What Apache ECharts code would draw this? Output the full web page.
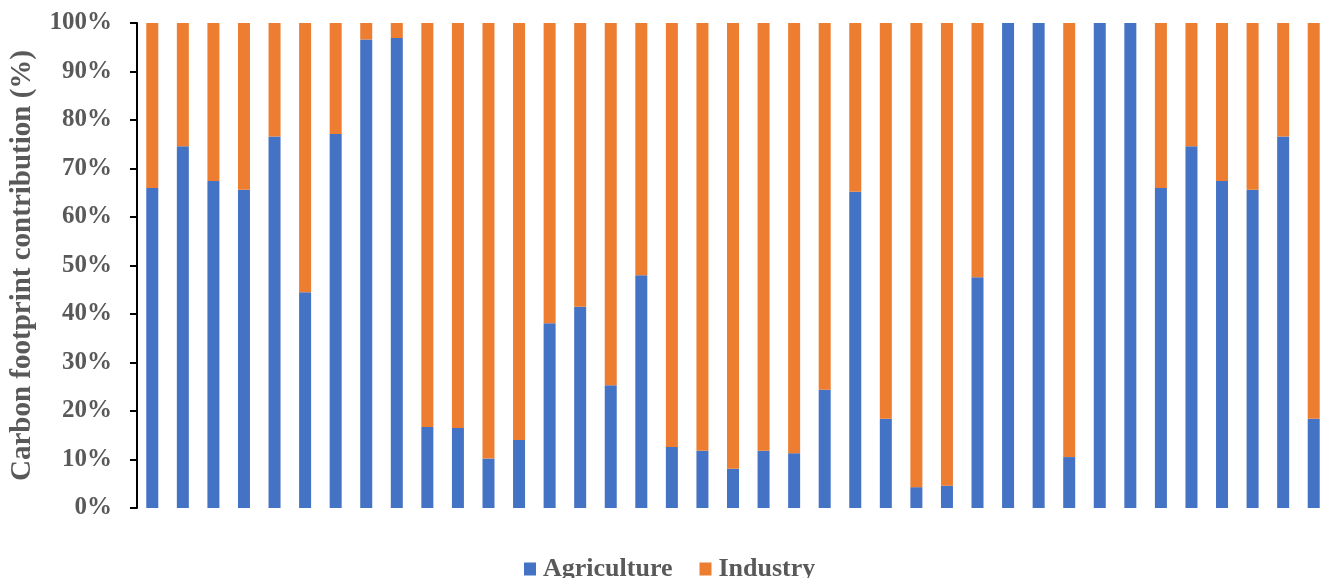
<!DOCTYPE html>
<html>
<head>
<meta charset="utf-8">
<script src="https://cdn.jsdelivr.net/npm/echarts@6/dist/echarts.min.js"></script>
<style>
html,body{margin:0;padding:0;background:#fff;overflow:hidden;width:1322px;height:578px;}
#chart{width:1330px;height:578px;}
</style>
</head>
<body>
<div id="chart"></div>
<script>
var categories = ['1','2','3','4','5','6','7','8','9','10','11','12','13','14','15','16','17','18','19','20',
  '21','22','23','24','25','26','27','28','29','30','31','32','33','34','35','36','37','38','39'];
var agriculture = [66.0, 74.6, 67.4, 65.6, 76.6, 44.5, 77.1, 96.6, 96.9, 16.7,
  16.5, 10.2, 14.0, 38.1, 41.5, 25.3, 48.0, 12.6, 11.8, 8.1,
  11.8, 11.3, 24.4, 65.2, 18.4, 4.3, 4.6, 47.6, 100, 100,
  10.5, 100, 100, 66.0, 74.6, 67.4, 65.6, 76.6, 18.4];
var industry = [34.0, 25.4, 32.6, 34.4, 23.4, 55.5, 22.9, 3.4, 3.1, 83.3,
  83.5, 89.8, 86.0, 61.9, 58.5, 74.7, 52.0, 87.4, 88.2, 91.9,
  88.2, 88.7, 75.6, 34.8, 81.6, 95.7, 95.4, 52.4, 0, 0,
  89.5, 0, 0, 34.0, 25.4, 32.6, 34.4, 23.4, 81.6];
var yTicks = [0, 10, 20, 30, 40, 50, 60, 70, 80, 90, 100];

var serif = '"Liberation Serif", "DejaVu Serif", serif';
var chart = echarts.init(document.getElementById('chart'), null, {renderer: 'canvas'});
chart.setOption({
  animation: false,
  grid: {left: 135, right: 1, top: 23, bottom: 70, containLabel: false},
  legend: {
    data: ['Agriculture', 'Industry'],
    left: 519, top: 551,
    itemWidth: 12, itemHeight: 13, itemGap: 27,
    icon: 'rect',
    textStyle: {fontFamily: serif, fontWeight: 'bold', fontSize: 26, color: '#595959', lineHeight: 26, padding: [0,0,0,2]}
  },
  xAxis: {
    type: 'category', data: categories, boundaryGap: true,
    axisLine: {show: false}, axisTick: {show: false}, axisLabel: {show: false}, splitLine: {show: false}
  },
  yAxis: {
    type: 'value', min: yTicks[0], max: yTicks[yTicks.length - 1], interval: 10,
    name: 'Carbon footprint contribution (%)', nameLocation: 'middle', nameGap: 100,
    nameTextStyle: {fontFamily: serif, fontWeight: 'bold', fontSize: 29, color: '#595959'},
    axisLine: {show: true, lineStyle: {color: '#000', width: 2}},
    axisTick: {show: true, inside: false, length: 7, lineStyle: {color: '#000', width: 2}},
    axisLabel: {formatter: '{value}%', margin: 25, fontFamily: serif, fontWeight: 'bold', fontSize: 25, color: '#595959'},
    splitLine: {show: false}
  },
  series: [
    {name: 'Agriculture', type: 'bar', stack: 'total', data: agriculture, barWidth: 12, itemStyle: {color: '#4472C4'}},
    {name: 'Industry', type: 'bar', stack: 'total', data: industry, barWidth: 12, itemStyle: {color: '#ED7D31'}}
  ]
});
</script>
</body>
</html>
